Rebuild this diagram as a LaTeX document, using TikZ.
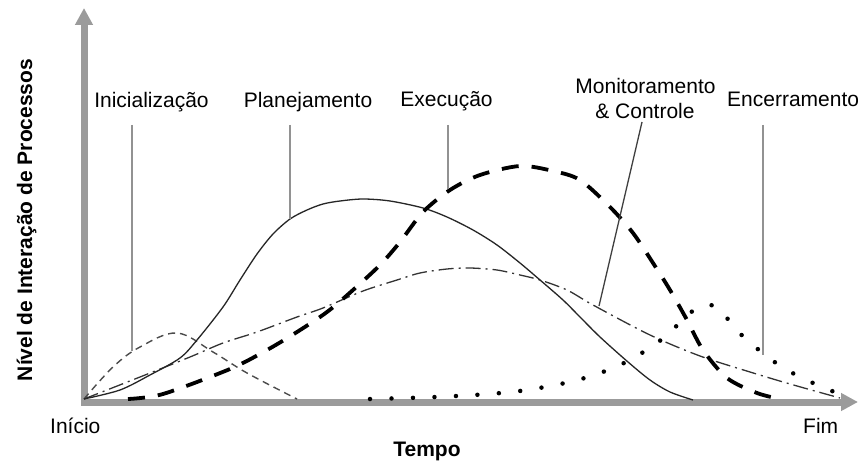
\documentclass[tikz,border=0pt]{standalone}
\usepackage{fontspec}
\setmainfont{Liberation Sans}
\usetikzlibrary{arrows.meta}
\begin{document}
\begin{tikzpicture}[x=1pt,y=-1pt,
  axisline/.style={draw=axisgray,line width=7pt,-{Triangle[length=17pt,width=17pt]}},
  leader/.style={draw=leadgray,line width=2pt},
  lbl/.style={font=\fontsize{21}{24}\selectfont,inner sep=0pt},
  blbl/.style={font=\fontsize{21}{24}\selectfont\bfseries,inner sep=0pt},
  plancurve/.style={draw=black!85,line width=1.3pt},
  inicurve/.style={draw=black!70,line width=1.4pt,dash pattern=on 7pt off 5pt},
  execcurve/.style={draw=black,line width=3.8pt,dash pattern=on 17pt off 13pt},
  moncurve/.style={draw=black!80,line width=1.3pt,dash pattern=on 15pt off 5pt on 2pt off 5pt},
  enccurve/.style={draw=black,line width=4.5pt,line cap=round,dash pattern=on 0pt off 21.5pt}]
\definecolor{axisgray}{HTML}{9B9B9B}
\definecolor{leadgray}{HTML}{929292}
\useasboundingbox (0,0) rectangle (858,462);
\fill[white] (0,0) rectangle (858,462);
% axes
\coordinate (O) at (84,402);
\coordinate (ytop) at (84,8);
\coordinate (xend) at (858,402);
\draw[axisline] (84,405.5) -- (ytop);
\draw[axisline] (80.5,402) -- (xend);
% curves
\draw[inicurve] plot[smooth,tension=0.6] coordinates {(84,399) (113,367) (140,347) (177,333) (213,352) (247,373) (297,399)};
\draw[moncurve] plot[smooth,tension=0.5] coordinates {(84,399) (140,377) (190,357) (223,343) (257,332) (297,317) (323,308) (363,291) (397,280) (420,273) (447,269) (470,268) (497,270) (520,275) (540,280) (567,290) (593,305) (650,335) (700,356) (750,372) (790,384) (840,398)};
\draw[plancurve] plot[smooth,tension=0.5] coordinates {(84,399) (120,390) (150,375) (180,358) (197,340) (223,307) (240,280) (257,254) (273,234) (290,219) (307,210) (323,204) (340,201) (363,199) (390,201) (423,208) (447,217) (473,230) (497,245) (520,263) (540,280) (563,300) (580,317) (600,337) (628,362) (650,380) (670,392) (693,400)};
\draw[execcurve] plot[smooth,tension=0.5] coordinates {(128,399) (163,394) (230,369) (267,350) (297,332) (327,312) (353,290) (380,265) (400,242) (423,212) (450,190) (480,175) (520,166) (553,171) (580,180) (610,207) (633,233) (653,263) (670,290) (687,320) (703,350) (727,378) (757,393) (780,399)};
\draw[enccurve] plot[smooth,tension=0.6] coordinates {(370,399) (436,397) (501,393) (545,387) (588,377) (628,361) (665,337) (682,320) (697,308) (708,305) (718,308) (732,324) (747,340) (782,367) (822,387) (852,398)};
% labels
\node[lbl,anchor=base] (ini) at (151.5,108) {Inicialização};
\node[lbl,anchor=base] (plan) at (308,108) {Planejamento};
\node[lbl,anchor=base] (exec) at (446.5,107) {Execução};
\node[lbl,anchor=base] (mon1) at (645.5,94) {Monitoramento};
\node[lbl,anchor=base] (mon2) at (645,119) {\& Controle};
\node[lbl,anchor=base west] (enc) at (727,107) {Encerramento};
\node[lbl,anchor=base west] (inicio) at (50,433) {Início};
\node[lbl,anchor=base west] (fim) at (803,433) {Fim};
\node[blbl,anchor=base] (tempo) at (427,456) {Tempo};
\node[blbl,rotate=90,anchor=base] (nivel) at (32,220) {Nível de Interação de Processos};
% leaders
\coordinate (iniA) at (132,125); \coordinate (iniB) at (132,351);
\coordinate (planA) at (290,125); \coordinate (planB) at (290,219);
\coordinate (execA) at (448,125); \coordinate (execB) at (448,189);
\coordinate (monA) at (642,122); \coordinate (monB) at (599,306);
\coordinate (encA) at (763,125); \coordinate (encB) at (763,355);
\draw[leader] (iniA) -- (iniB);
\draw[leader] (planA) -- (planB);
\draw[leader] (execA) -- (execB);
\draw[draw=black!75,line width=1.3pt] (monA) -- (monB);
\draw[leader] (encA) -- (encB);
\end{tikzpicture}
\end{document}
